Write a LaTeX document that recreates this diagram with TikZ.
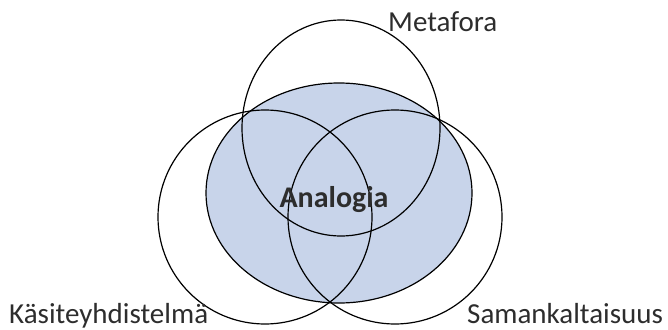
\documentclass[tikz,border=0pt]{standalone}
\usepackage{fontspec}
\setmainfont{Carlito}
\usetikzlibrary{shapes.geometric}
\definecolor{analogyfill}{RGB}{200,212,234}
\definecolor{labelgray}{RGB}{45,45,45}
\begin{document}
\begin{tikzpicture}[x=1pt,y=-1pt,
  ring/.style={ellipse, draw=black, line width=1.2pt, inner sep=0pt, outer sep=0pt},
  core/.style={ring, fill=analogyfill},
  label/.style={text=labelgray, inner sep=0pt, font=\fontsize{29}{35}\selectfont}]
\useasboundingbox (0,0) rectangle (668,329);
% shaded central region
\node[core, minimum width=266pt, minimum height=220pt] (analogy) at (339,193) {};
% three overlapping concept circles
\node[ring, minimum width=214pt, minimum height=214pt] (kasite) at (265,217) {};
\node[ring, minimum width=214pt, minimum height=214pt] (saman) at (395,217) {};
\node[ring, minimum width=198pt, minimum height=216pt] (meta) at (341,128) {};
% labels
\node[label, anchor=base west] (metalabel) at (388,32) {Metafora};
\node[label, anchor=base west] (kasitelabel) at (9,323) {Käsiteyhdistelmä};
\node[label, anchor=base west] (samanlabel) at (467,323) {Samankaltaisuus};
\node[label, anchor=base, font=\fontsize{30}{36}\selectfont\bfseries] (analogylabel) at (334,207) {Analogia};
\end{tikzpicture}
\end{document}
